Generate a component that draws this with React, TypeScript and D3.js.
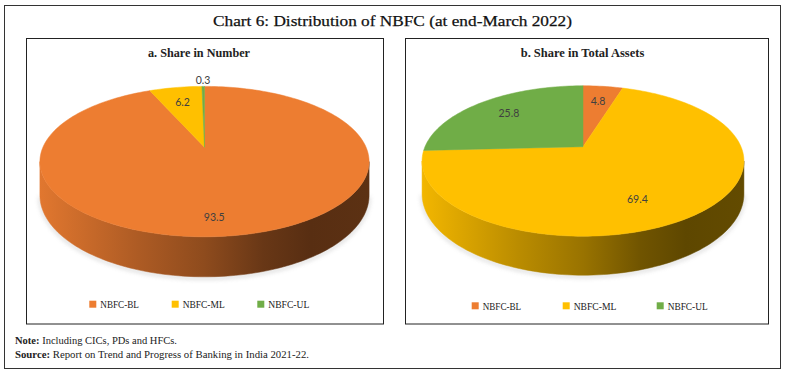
import React from "react";
import * as d3 from "d3";

const categories = ["NBFC-BL", "NBFC-ML", "NBFC-UL"];
const shareNumber = [93.5, 6.2, 0.3];
const shareAssets = [4.8, 69.4, 25.8];
const seriesColors = ["#ED7D31", "#FFC000", "#70AD47"];
const panelTitles = ["a. Share in Number", "b. Share in Total Assets"];
const chartTitle = "Chart 6: Distribution of NBFC (at end-March 2022)";
const noteText = ["Note:", " Including CICs, PDs and HFCs."];
const sourceText = ["Source:", " Report on Trend and Progress of Banking in India 2021-22."];

type Cfg = {
  x0: number; x1: number; cx: number; cy: number; sR: number; tR: number; k: number; depth: number;
  titleX: number; titleLen: number; legX: number[]; legLen: number[];
};

const panels: Cfg[] = [
  { x0: 26, x1: 383, cx: 204.5, cy: 147.3, sR: 161.6, tR: 72.5, k: 0.19, depth: 40,
    titleX: 199, titleLen: 102, legX: [89.3, 171.7, 257.3], legLen: [38.6, 42, 41] },
  { x0: 405, x1: 768, cx: 583, cy: 146.7, sR: 158, tR: 72.5, k: 0.19, depth: 39,
    titleX: 582.5, titleLen: 123.6, legX: [471.7, 562.7, 656.7], legLen: [38.4, 42.7, 40] },
];

const shadeStops: [number, number][] = [
  [0, 0.95], [0.3, 0.73], [0.5, 0.6], [0.68, 0.44], [0.82, 0.37], [1, 0.39],
];

function shade(hex: string, m: number) {
  const c = d3.rgb(hex);
  return d3.rgb(c.r * m, c.g * m, c.b * m).formatHex();
}

function Pie3D({ values, cfg, idx }: { values: number[]; cfg: Cfg; idx: number }) {
  const { cx, cy, sR, tR, k, depth } = cfg;
  const D = depth * (1 - k);
  const proj = (t: number, f = 1) => {
    const w = 1 + k * f * Math.cos(t);
    return [cx + (sR * f * Math.sin(t)) / w, cy - (tR * f * Math.cos(t)) / w, w];
  };
  const pie = d3.pie<number>().sort(null).value((d) => d).startAngle(0).endAngle(2 * Math.PI);
  const arcs = pie(values);
  const total = d3.sum(values);
  const line = d3.line();
  const sample = (a0: number, a1: number) => {
    const n = Math.max(2, Math.ceil(((a1 - a0) / (2 * Math.PI)) * 240));
    return d3.range(n + 1).map((i) => a0 + ((a1 - a0) * i) / n);
  };
  const ts = Math.acos(-k);
  const te = 2 * Math.PI - ts;
  const halfW = sR / Math.sqrt(1 - k * k);

  return (
    <g>
      <defs>
        {arcs.map((a, i) => (
          <linearGradient key={i} id={`side-${idx}-${i}`} gradientUnits="userSpaceOnUse"
            x1={cx - halfW} x2={cx + halfW} y1={0} y2={0}>
            {shadeStops.map(([o, m], j) => (
              <stop key={j} offset={o} stopColor={shade(seriesColors[i], m)} />
            ))}
          </linearGradient>
        ))}
        <filter id={`blur-${idx}`} x="-20%" y="-50%" width="140%" height="200%">
          <feGaussianBlur stdDeviation="2" />
        </filter>
      </defs>
      <path
        d={line(sample(ts, te).map((t) => {
          const [x, y, w] = proj(t);
          return [x, y + D / (w as number) + 1.5] as [number, number];
        })) as string}
        fill="none" stroke="#bdbdbd" strokeWidth={2} filter={`url(#blur-${idx})`} opacity={0.8}
      />
      {arcs.map((a, i) => {
        const s = Math.max(a.startAngle, ts);
        const e = Math.min(a.endAngle, te);
        if (e <= s) return null;
        const pts = sample(s, e);
        const top = pts.map((t) => proj(t));
        const bot = pts.slice().reverse().map((t) => {
          const [x, y, w] = proj(t);
          return [x, y + D / (w as number)];
        });
        const poly = [...top.map((p) => [p[0], p[1]]), ...bot] as [number, number][];
        return (
          <path key={`s${i}`} d={line(poly) + "Z"} fill={`url(#side-${idx}-${i})`}
            stroke={`url(#side-${idx}-${i})`} strokeWidth={0.5} />
        );
      })}
      {arcs.map((a, i) => {
        const pts = sample(a.startAngle, a.endAngle).map((t) => {
          const p = proj(t);
          return [p[0], p[1]] as [number, number];
        });
        const poly = [[cx, cy] as [number, number], ...pts];
        return (
          <path key={`t${i}`} d={line(poly) + "Z"} fill={seriesColors[i]}
            stroke={seriesColors[i]} strokeWidth={0.5} strokeLinejoin="round" />
        );
      })}
      {arcs.map((a, i) => {
        const p = a.value / total;
        const mid = (a.startAngle + a.endAngle) / 2;
        const f = p < 0.01 ? 1.13 : 0.72 + 0.12 * p;
        const gx = p < 0.01 ? 1 : 1 - 0.8 * p * p;
        const [x, y] = proj(mid, f);
        return (
          <text key={`l${i}`} x={cx + (x - cx) * gx} y={y} textAnchor="middle"
            dominantBaseline="central" fontFamily="Lato, 'Open Sans', sans-serif"
            fontSize={10.5} fill="#404040">
            {d3.format(".1f")(a.value)}
          </text>
        );
      })}
    </g>
  );
}

export default function App() {
  const W = 785, H = 374;
  const datasets = [shareNumber, shareAssets];
  const serif = "'Liberation Serif', 'DejaVu Serif', serif";
  return (
    <svg width={W} height={H} style={{ position: "absolute", left: 0, top: 0, background: "#fff" }}>
      <rect x={0} y={0} width={W} height={H} fill="#fff" />
      <rect x={4.5} y={5.5} width={776} height={363} fill="none" stroke="#333" strokeWidth={1} />
      <text x={392.5} y={26} textAnchor="middle" fontFamily={serif} fontSize={15.5}
        textLength={359} lengthAdjust="spacingAndGlyphs" fill="#111" stroke="#111" strokeWidth={0.25}>
        {chartTitle}
      </text>
      {panels.map((cfg, pi) => (
        <g key={pi}>
          <rect x={cfg.x0 + 0.5} y={38.5} width={cfg.x1 - cfg.x0} height={285.5}
            fill="#fff" stroke="#222" strokeWidth={1} />
          <text x={cfg.titleX} y={57} textAnchor="middle" fontFamily={serif} fontWeight="bold"
            fontSize={12} textLength={cfg.titleLen} lengthAdjust="spacingAndGlyphs" fill="#222">
            {panelTitles[pi]}
          </text>
          <Pie3D values={datasets[pi]} cfg={cfg} idx={pi} />
          {categories.map((c, i) => (
            <g key={c}>
              <rect x={cfg.legX[i]} y={pi === 0 ? 300.7 : 302.3} width={7} height={7} fill={seriesColors[i]} />
              <text x={cfg.legX[i] + 11} y={pi === 0 ? 308 : 309.6} fontFamily={serif} fontSize={10}
                textLength={cfg.legLen[i]} lengthAdjust="spacingAndGlyphs" fill="#222">
                {c}
              </text>
            </g>
          ))}
        </g>
      ))}
      <text x={15} y={344} fontFamily={serif} fontSize={10.5} fill="#222"
        textLength={162} lengthAdjust="spacingAndGlyphs">
        <tspan fontWeight="bold">{noteText[0]}</tspan>
        <tspan>{noteText[1]}</tspan>
      </text>
      <text x={15} y={357.5} fontFamily={serif} fontSize={10.5} fill="#222"
        textLength={294} lengthAdjust="spacingAndGlyphs">
        <tspan fontWeight="bold">{sourceText[0]}</tspan>
        <tspan>{sourceText[1]}</tspan>
      </text>
    </svg>
  );
}
